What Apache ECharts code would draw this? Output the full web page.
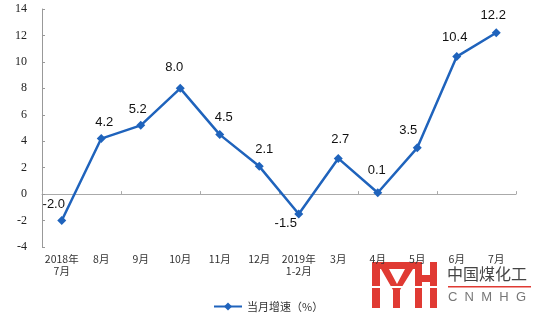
<!DOCTYPE html>
<html>
<head>
<meta charset="utf-8">
<script src="https://cdn.jsdelivr.net/npm/echarts@6/dist/echarts.min.js"></script>
<style>html,body{margin:0;padding:0;background:#fff}#c{width:536px;height:315px}</style>
</head>
<body>
<div id="c"></div>
<script>
const categories = ['2018年\n7月','8月','9月','10月','11月','12月','2019年\n1-2月','3月','4月','5月','6月','7月'];
const values = [-2.0, 4.2, 5.2, 8.0, 4.5, 2.1, -1.5, 2.7, 0.1, 3.5, 10.4, 12.2];
const seriesName = '当月增速（%）';
const yMin = -4, yMax = 14, yStep = 2;

// label placement tweaks (style only)
const labelPos = ['top','top','top','top','top','top','bottom','top','top','top','top','top'];
const labelOff = [[-8,0],[3,0],[-3,0],[-6,-5],[4,-1],[5,-1],[-13,-7],[2,-3],[-1,-6],[-9,-1],[-2,-3],[-3,-1]];

const blue = '#1F63BC';
const gridPos = {left: 42, right: 20, top: 9, bottom: 68};

const chart = echarts.init(document.getElementById('c'));
chart.setOption({
  animation: false,
  backgroundColor: '#fff',
  grid: [Object.assign({}, gridPos), Object.assign({}, gridPos)],
  xAxis: [{
    type: 'category', gridIndex: 0, data: categories, boundaryGap: true,
    axisLine: {onZero: true, lineStyle: {color: '#aaa', width: 1}},
    axisTick: {show: true, inside: true, length: 3, lineStyle: {color: '#aaa'}},
    axisLabel: {show: false}
  }, {
    type: 'category', gridIndex: 1, data: categories, boundaryGap: true, position: 'bottom',
    axisLine: {show: false, onZero: false},
    axisTick: {show: false},
    axisLabel: {show: true, interval: 0, margin: 6, fontSize: 10.5, lineHeight: 12,
      color: '#333', fontFamily: 'Noto Sans CJK SC'}
  }],
  yAxis: [{
    type: 'value', gridIndex: 0, min: yMin, max: yMax, interval: yStep,
    axisLine: {show: true, lineStyle: {color: '#999', width: 1}},
    axisTick: {show: true, inside: true, length: 3, lineStyle: {color: '#999'}},
    splitLine: {show: false},
    axisLabel: {margin: 15, fontSize: 12, color: '#222', fontFamily: 'Liberation Serif'}
  }, {
    type: 'value', gridIndex: 1, min: 0, max: 1, show: false
  }],
  legend: {
    data: [seriesName], left: 208, top: 296, itemWidth: 28, itemHeight: 10, itemGap: 4,
    textStyle: {fontSize: 11, color: '#333', fontFamily: 'Noto Sans CJK SC'}
  },
  series: [{
    name: seriesName, type: 'line', xAxisIndex: 0, yAxisIndex: 0,
    data: values.map((v, i) => ({
      value: v,
      label: {position: labelPos[i], offset: labelOff[i]}
    })),
    symbol: 'diamond', symbolSize: 9,
    lineStyle: {color: blue, width: 2.5},
    itemStyle: {color: blue},
    label: {show: true, distance: 5, fontSize: 13, color: '#111', fontFamily: 'Liberation Sans',
      formatter: p => p.value.toFixed(1)}
  }],
  graphic: [
    {type: 'group', silent: true, children: [
      {type: 'rect', shape: {x: 372, y: 262, width: 8, height: 46}, style: {fill: '#E03A33'}},
      {type: 'rect', shape: {x: 372, y: 262, width: 50, height: 7}, style: {fill: '#E03A33'}},
      {type: 'polygon', shape: {points: [[381,269],[389,269],[397,284],[405,269],[413,269],[400,290],[400,308],[393,308],[393,290]]}, style: {fill: '#E03A33'}},
      {type: 'rect', shape: {x: 415, y: 262, width: 7, height: 46}, style: {fill: '#E03A33'}},
      {type: 'rect', shape: {x: 430, y: 262, width: 7, height: 46}, style: {fill: '#E03A33'}},
      {type: 'rect', shape: {x: 415, y: 275, width: 22, height: 7}, style: {fill: '#E03A33'}},
      {type: 'rect', shape: {x: 370, y: 286, width: 70, height: 2}, style: {fill: '#fff'}},
      {type: 'rect', shape: {x: 448, y: 286, width: 83, height: 1.5}, style: {fill: '#E03A33'}},
      {type: 'text', left: 447, top: 266, style: {text: '中国煤化工', fontSize: 16, fill: '#444', fontFamily: 'Noto Sans CJK SC'}},
      {type: 'text', left: 448, top: 291, style: {text: 'C  N  M  H  G', fontSize: 13, fill: '#777', fontFamily: 'Liberation Sans'}}
    ]}
  ]
});
</script>
</body>
</html>
